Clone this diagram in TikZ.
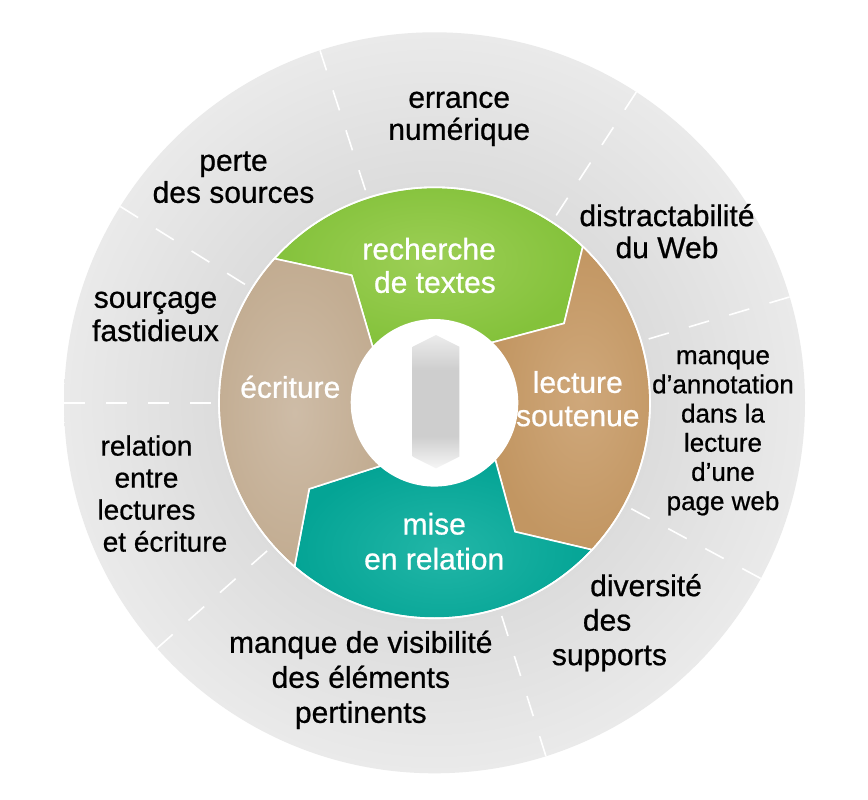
\documentclass[tikz,border=0pt]{standalone}
\usepackage{fontspec}
\setmainfont{Liberation Sans}
\newfontfamily\labfont{Liberation Sans}[FakeBold=0.7]
\definecolor{discin}{HTML}{DCDCDC}
\definecolor{discout}{HTML}{EAEAEA}
\definecolor{greenin}{HTML}{9DCF56}
\definecolor{greenout}{HTML}{84C23B}
\definecolor{tanin}{HTML}{CEBCA7}
\definecolor{tanout}{HTML}{C2AC91}
\definecolor{brownin}{HTML}{CFA87B}
\definecolor{brownout}{HTML}{C29662}
\definecolor{tealin}{HTML}{22B6A7}
\definecolor{tealout}{HTML}{04A495}
\definecolor{icontop}{HTML}{ECECEC}
\definecolor{iconmid}{HTML}{CECECE}
\definecolor{iconbot}{HTML}{F6F6F6}
\pgfdeclareradialshading{discshade}{\pgfpoint{0bp}{0bp}}{color(0bp)=(discin); color(14.5bp)=(discin); color(25bp)=(discout); color(50bp)=(discout)}
\pgfdeclareverticalshading{iconshade}{100bp}{color(0bp)=(iconbot); color(25bp)=(iconbot); color(37bp)=(iconmid); color(62bp)=(iconmid); color(75bp)=(icontop); color(100bp)=(icontop)}
\newcommand{\stackC}[2]{\vtop{\baselineskip=#1\lineskiplimit=-100pt\lineskip=0pt\halign{\hfil##\hfil\cr#2\crcr}}}
\newcommand{\stackR}[2]{\vtop{\baselineskip=#1\lineskiplimit=-100pt\lineskip=0pt\halign{\hfil##\cr#2\crcr}}}
\newcommand{\stackL}[2]{\vtop{\baselineskip=#1\lineskiplimit=-100pt\lineskip=0pt\halign{##\hfil\cr#2\crcr}}}
\tikzset{
  lab/.style={inner sep=0pt, text=black, font=\labfont\fontsize{30}{32}\selectfont},
  wlab/.style={lab, text=white},
  sepdash/.style={draw=white, line width=1.6pt, dash pattern=on 21pt off 21pt},
  segment/.style={draw=white, line width=1.6pt}
}
\begin{document}
\begin{tikzpicture}[x=1pt,y=1pt]
\useasboundingbox (0,0) rectangle (868,-800);
\fill[white] (0,0) rectangle (868,-800);
\begin{scope}[shift={(434.5,-402.8)}]
  % outer disc
  \shade[shading=discshade] (0,0) circle[radius=370.5];
  % dashed separators of the outer ring
  \foreach \a in {16.6,57,108,148,180,221.5,287.5,331.7}
    \draw[sepdash] (\a:370.5) -- (\a:219);
  % green: recherche de textes
  \shadedraw[segment, inner color=greenin, outer color=greenout]
    (138:215.5) arc[start angle=138, end angle=46.5, radius=215.5]
    -- (31.5:152) -- (46.5:83) arc[start angle=46.5, end angle=138, radius=83]
    -- (123:152) -- cycle;
  % brown: lecture soutenue
  \shadedraw[segment, inner color=brownin, outer color=brownout]
    (46.5:215.5) arc[start angle=46.5, end angle=-43, radius=215.5]
    -- (-58:152) -- (-43:83) arc[start angle=-43, end angle=46.5, radius=83]
    -- (31.5:152) -- cycle;
  % teal: mise en relation
  \shadedraw[segment, inner color=tealin, outer color=tealout]
    (-43:215.5) arc[start angle=-43, end angle=-130.5, radius=215.5]
    -- (-145.5:152) -- (-130.5:83) arc[start angle=-130.5, end angle=-43, radius=83]
    -- (-58:152) -- cycle;
  % tan: ecriture
  \shadedraw[segment, inner color=tanin, outer color=tanout]
    (-130.5:215.5) arc[start angle=-130.5, end angle=-222, radius=215.5]
    -- (-237:152) -- (-222:83) arc[start angle=-222, end angle=-130.5, radius=83]
    -- (-145.5:152) -- cycle;
  % white rim and hole
  \draw[white, line width=1.6pt] (0,0) circle[radius=215.5];
  \fill[white] (0,0) circle[radius=83];
  % central icon
  \shade[shading=iconshade]
    (1.5,67.8) -- (24.8,56.1) -- (24.8,-53.9) -- (1.5,-65.5) -- (-21.8,-53.9) -- (-21.8,56.1) -- cycle;
\end{scope}
% inner labels
\node[wlab, anchor=base east] (rech) at (496,-259.5) {\stackR{33.3pt}{recherche\cr de textes}};
\node[wlab, anchor=base] (ecri) at (290.3,-397.8) {écriture};
\node[wlab, anchor=base] (lect) at (577.8,-392.8) {\stackC{33.3pt}{lecture\cr soutenue}};
\node[wlab, anchor=base] (mise) at (434.2,-534.5) {\stackC{35pt}{mise\cr en relation}};
% outer labels
\node[lab, anchor=base] (errance) at (459.2,-107.8) {\stackC{32pt}{errance\cr numérique}};
\node[lab, anchor=base] (perte) at (233.5,-170.8) {\stackC{32pt}{perte\cr des sources}};
\node[lab, anchor=base] (distr) at (667,-226.1) {\stackC{32pt}{distractabilité\cr du Web}};
\node[lab, anchor=base] (sourc) at (155.5,-307.8) {\stackC{33.3pt}{sourçage\cr fastidieux}};
\node[lab, anchor=base, font=\labfont\fontsize{26}{29}\selectfont] (annot) at (723,-364.1)
  {\stackC{29.2pt}{manque\cr d’annotation\cr dans la\cr lecture\cr d’une\cr page web}};
\node[lab, anchor=base, font=\labfont\fontsize{28}{32}\selectfont] (relat) at (146.5,-455.6)
  {\stackC{32pt}{relation\cr entre\cr lectures\cr\hskip37pt et écriture}};
\node[lab, anchor=base] (visib) at (360.8,-652.8) {\stackC{35pt}{manque de visibilité\cr des éléments\cr pertinents}};
\node[lab, anchor=base west] (divers) at (551.7,-596.1) {\stackL{34.5pt}{\hskip38.3pt diversité\cr\hskip31pt des\cr supports}};
\end{tikzpicture}
\end{document}
